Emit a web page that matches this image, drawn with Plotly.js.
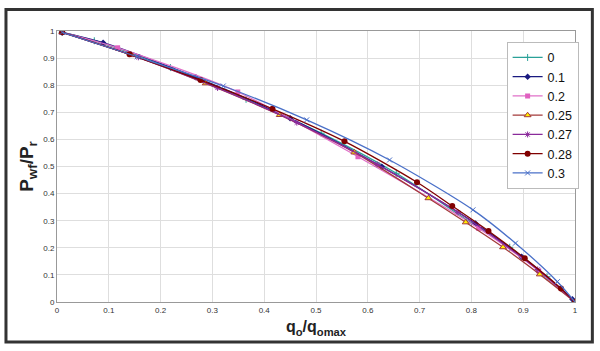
<!DOCTYPE html>
<html><head><meta charset="utf-8">
<script src="https://cdn.plot.ly/plotly-3.0.1.min.js"></script>
<style>html,body{margin:0;padding:0;background:#fff;}#chart{width:600px;height:351px;}</style>
</head><body><div id="chart"></div>
<script>
// Series labels
const seriesNames = ["0", "0.1", "0.2", "0.25", "0.27", "0.28", "0.3"];
// x = qo/qomax, y = Pwf/Pr
const x0   = [0.01, 0.072, 0.219, 0.365, 0.51, 0.655, 0.80, 0.874, 0.946, 1.0];
const y0   = [0.995, 0.964, 0.865, 0.748, 0.623, 0.475, 0.292, 0.202, 0.093, 0.0];
const x01  = [0.01, 0.089, 0.268, 0.45, 0.627, 0.808, 0.897, 0.995, 1.0];
const y01  = [0.995, 0.957, 0.829, 0.678, 0.499, 0.29, 0.167, 0.01, 0.0];
const x02  = [0.01, 0.117, 0.349, 0.581, 0.814, 0.93, 1.0];
const y02  = [0.995, 0.938, 0.775, 0.536, 0.272, 0.115, 0.0];
const x025 = [0.01, 0.144, 0.287, 0.43, 0.574, 0.717, 0.789, 0.861, 0.932, 1.0];
const y025 = [0.995, 0.911, 0.807, 0.69, 0.552, 0.383, 0.294, 0.202, 0.102, 0.0];
const x027 = [0.01, 0.157, 0.31, 0.463, 0.618, 0.774, 0.928, 1.0];
const y027 = [0.995, 0.903, 0.79, 0.662, 0.508, 0.331, 0.12, 0.0];
const x028 = [0.01, 0.14, 0.277, 0.416, 0.555, 0.695, 0.763, 0.833, 0.903, 0.973, 1.0];
const y028 = [0.995, 0.914, 0.819, 0.713, 0.593, 0.442, 0.354, 0.262, 0.161, 0.05, 0.0];
const x03  = [0.01, 0.155, 0.321, 0.482, 0.642, 0.803, 0.885, 0.966, 1.0];
const y03  = [0.995, 0.905, 0.797, 0.672, 0.524, 0.34, 0.217, 0.075, 0.0];
const xTicks = [0,0.1,0.2,0.3,0.4,0.5,0.6,0.7,0.8,0.9,1];
const yTicks = [0,0.1,0.2,0.3,0.4,0.5,0.6,0.7,0.8,0.9,1];

const xs = [x0, x01, x02, x025, x027, x028, x03];
const ys = [y0, y01, y02, y025, y027, y028, y03];
const lineColors = ["#2aa198", "#1a1a80", "#e070c8", "#a33a3a", "#8a2a9a", "#800000", "#4a70c8"];
const markers = [
  {symbol:"cross-thin", size:5, color:"#2aa198", line:{color:"#2aa198", width:1}},
  {symbol:"diamond", size:5, color:"#1a1a80"},
  {symbol:"square", size:5, color:"#e060c0"},
  {symbol:"triangle-up", size:6, color:"#ffee00", line:{color:"#a33a3a", width:1}},
  {symbol:"asterisk", size:5, color:"#8a2a9a", line:{color:"#8a2a9a", width:1}},
  {symbol:"circle", size:6, color:"#800000"},
  {symbol:"x-thin", size:5, color:"#4a70c8", line:{color:"#4a70c8", width:1}}
];

const traces = seriesNames.map((n, i) => ({
  x: xs[i], y: ys[i], name: n, type: "scatter", mode: "lines+markers",
  line: {color: lineColors[i], width: 1.3, shape: "spline", smoothing: 0.8},
  marker: markers[i]
}));

const layout = {
  width: 600, height: 351,
  margin: {l: 57, r: 25, t: 31, b: 49, pad: 0},
  paper_bgcolor: "#fff", plot_bgcolor: "#fff",
  font: {family: "Liberation Sans, Arial, sans-serif", color: "#222"},
  showlegend: true,
  legend: {x: 0.868, y: 0.96, xanchor: "left", yanchor: "top",
    bgcolor: "#fff", bordercolor: "#bbb", borderwidth: 1,
    font: {size: 12.5, color: "#111"}, itemwidth: 30, tracegroupgap: 0},
  xaxis: {range: [0, 1], tickvals: xTicks, ticktext: xTicks.map(String),
    showgrid: true, gridcolor: "#dedede", gridwidth: 1,
    showline: true, linecolor: "#999", mirror: true, zeroline: false,
    ticks: "", tickfont: {size: 8, color: "#333"},
    title: {text: "<b>q<sub>o</sub>/q<sub>omax</sub></b>", font: {size: 16, color: "#222"}, standoff: 7}},
  yaxis: {range: [0, 1], tickvals: yTicks, ticktext: yTicks.map(String),
    showgrid: true, gridcolor: "#dedede", gridwidth: 1,
    showline: true, linecolor: "#999", mirror: true, zeroline: false,
    ticks: "", tickfont: {size: 8, color: "#333"},
    title: {text: "<b>P<sub>wf</sub>/P<sub>r</sub></b>", font: {size: 19, color: "#222"}, standoff: 4}},
  shapes: [{type: "rect", xref: "paper", yref: "paper",
    x0: -0.0985, x1: 1.0335, y0: -0.148, y1: 1.079,
    line: {color: "#333", width: 3}, fillcolor: "rgba(0,0,0,0)"}]
};
Plotly.newPlot("chart", traces, layout, {displayModeBar: false, staticPlot: true});
</script></body></html>
